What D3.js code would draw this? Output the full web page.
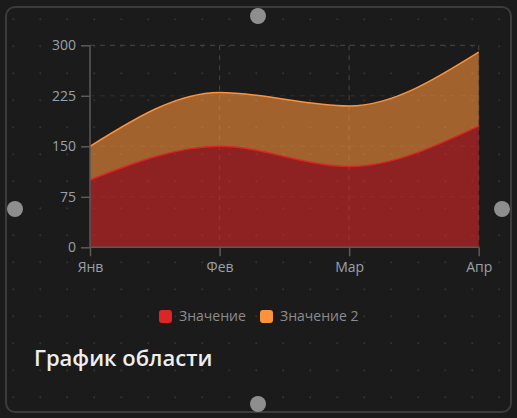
<!DOCTYPE html>
<html><head><meta charset="utf-8">
<script src="https://cdn.jsdelivr.net/npm/d3@7"></script>
<style>
html,body{margin:0;padding:0;background:#1b1b1b;}
svg{display:block;}
</style></head>
<body>
<script>
const categories = ["Янв", "Фев", "Мар", "Апр"];
const series1 = [100, 150, 120, 180];
const series2 = [50, 80, 90, 110];
const seriesNames = ["Значение", "Значение 2"];
const yTicks = [0, 75, 150, 225, 300];
const title = "График области";

const W = 517, H = 418;
const svg = d3.select("body").append("svg").attr("width", W).attr("height", H);
const font = "'Open Sans', 'Noto Sans', sans-serif";

svg.append("rect").attr("width", W).attr("height", H).attr("fill", "#1b1b1b");
// dot grid
const dots = svg.append("g");
for (let x = 13.3; x < W; x += 27) for (let y = 19.3; y < H; y += 27)
  dots.append("circle").attr("cx", x).attr("cy", y).attr("r", 1.1).attr("fill", "#333");

// card border
svg.append("rect").attr("x", 6).attr("y", 7).attr("width", 505).attr("height", 405)
  .attr("rx", 9).attr("fill", "none").attr("stroke", "#3c3c3c").attr("stroke-width", 2);

const x = d3.scalePoint().domain(categories).range([90, 478.7]);
const y = d3.scaleLinear().domain([0, 300]).range([247.3, 45.3]);

const data = categories.map((c, i) => ({c, a: series1[i], b: series2[i]}));
const stack = d3.stack().keys(["a", "b"])(data);

const g = svg.append("g");
// grid
g.selectAll(".hg").data(yTicks.filter(t => t > 0 && t < 300)).join("line")
  .attr("x1", 90).attr("x2", 478.7).attr("y1", d => y(d)).attr("y2", d => y(d))
  .attr("stroke", "rgba(255,255,255,0.08)").attr("stroke-dasharray", "5,5");
g.selectAll(".vg").data(categories.slice(1)).join("line")
  .attr("x1", d => x(d)).attr("x2", d => x(d)).attr("y1", y(300)).attr("y2", y(0))
  .attr("stroke", "#3e3e3e").attr("stroke-dasharray", "5,5").attr("stroke-width", 1.2);
g.append("line").attr("x1", 90).attr("x2", 478.7).attr("y1", y(300)).attr("y2", y(300))
  .attr("stroke", "#3e3e3e").attr("stroke-dasharray", "5,5").attr("stroke-width", 1.2);

const colors = ["#dc2626", "#fb923c"];
const area = d3.area().x(d => x(d.data.c)).y0(d => y(d[0])).y1(d => y(d[1])).curve(d3.curveMonotoneX);
const line = d3.line().x(d => x(d.data.c)).y(d => y(d[1])).curve(d3.curveMonotoneX);
stack.forEach((s, i) => {
  g.append("path").attr("d", area(s)).attr("fill", colors[i]).attr("fill-opacity", 0.6);
});
stack.forEach((s, i) => {
  g.append("path").attr("d", line(s)).attr("fill", "none").attr("stroke", colors[i]).attr("stroke-width", 1.5);
});

// axes
const yAxis = svg.append("g").attr("transform", "translate(90,0)")
  .call(d3.axisLeft(y).tickValues(yTicks).tickSize(9).tickPadding(5));
const xAxis = svg.append("g").attr("transform", `translate(0,${y(0)})`)
  .call(d3.axisBottom(x).tickSize(9).tickPadding(6));
[yAxis, xAxis].forEach(a => {
  a.selectAll("path,line").attr("stroke", "#5a5a5a").attr("stroke-width", 1.5);
  a.selectAll("text").attr("fill", "#9aa0a8").attr("font-family", font).attr("font-size", 14);
});
xAxis.select(".domain").attr("d", `M90,0H478.7`);
yAxis.select(".domain").attr("d", `M0,${y(300)}V${y(0)}`);

// legend
const leg = [{x: 159, name: seriesNames[0], c: colors[0]}, {x: 260, name: seriesNames[1], c: colors[1]}];
leg.forEach(l => {
  svg.append("rect").attr("x", l.x).attr("y", 310).attr("width", 13).attr("height", 13).attr("rx", 3).attr("fill", l.c);
  svg.append("text").attr("x", l.x + 20).attr("y", 321).attr("fill", "#8c8c8c")
    .attr("font-family", font).attr("font-size", 14).text(l.name);
});

svg.append("text").attr("x", 34).attr("y", 366).attr("fill", "#eeeeee")
  .attr("font-family", font).attr("font-weight", 600).attr("font-size", 22).text(title);

// handles
[[258, 16], [258, 404], [15, 209], [502, 209]].forEach(([cx, cy]) =>
  svg.append("circle").attr("cx", cx).attr("cy", cy).attr("r", 8).attr("fill", "#8e8e8e"));
</script>
</body></html>
